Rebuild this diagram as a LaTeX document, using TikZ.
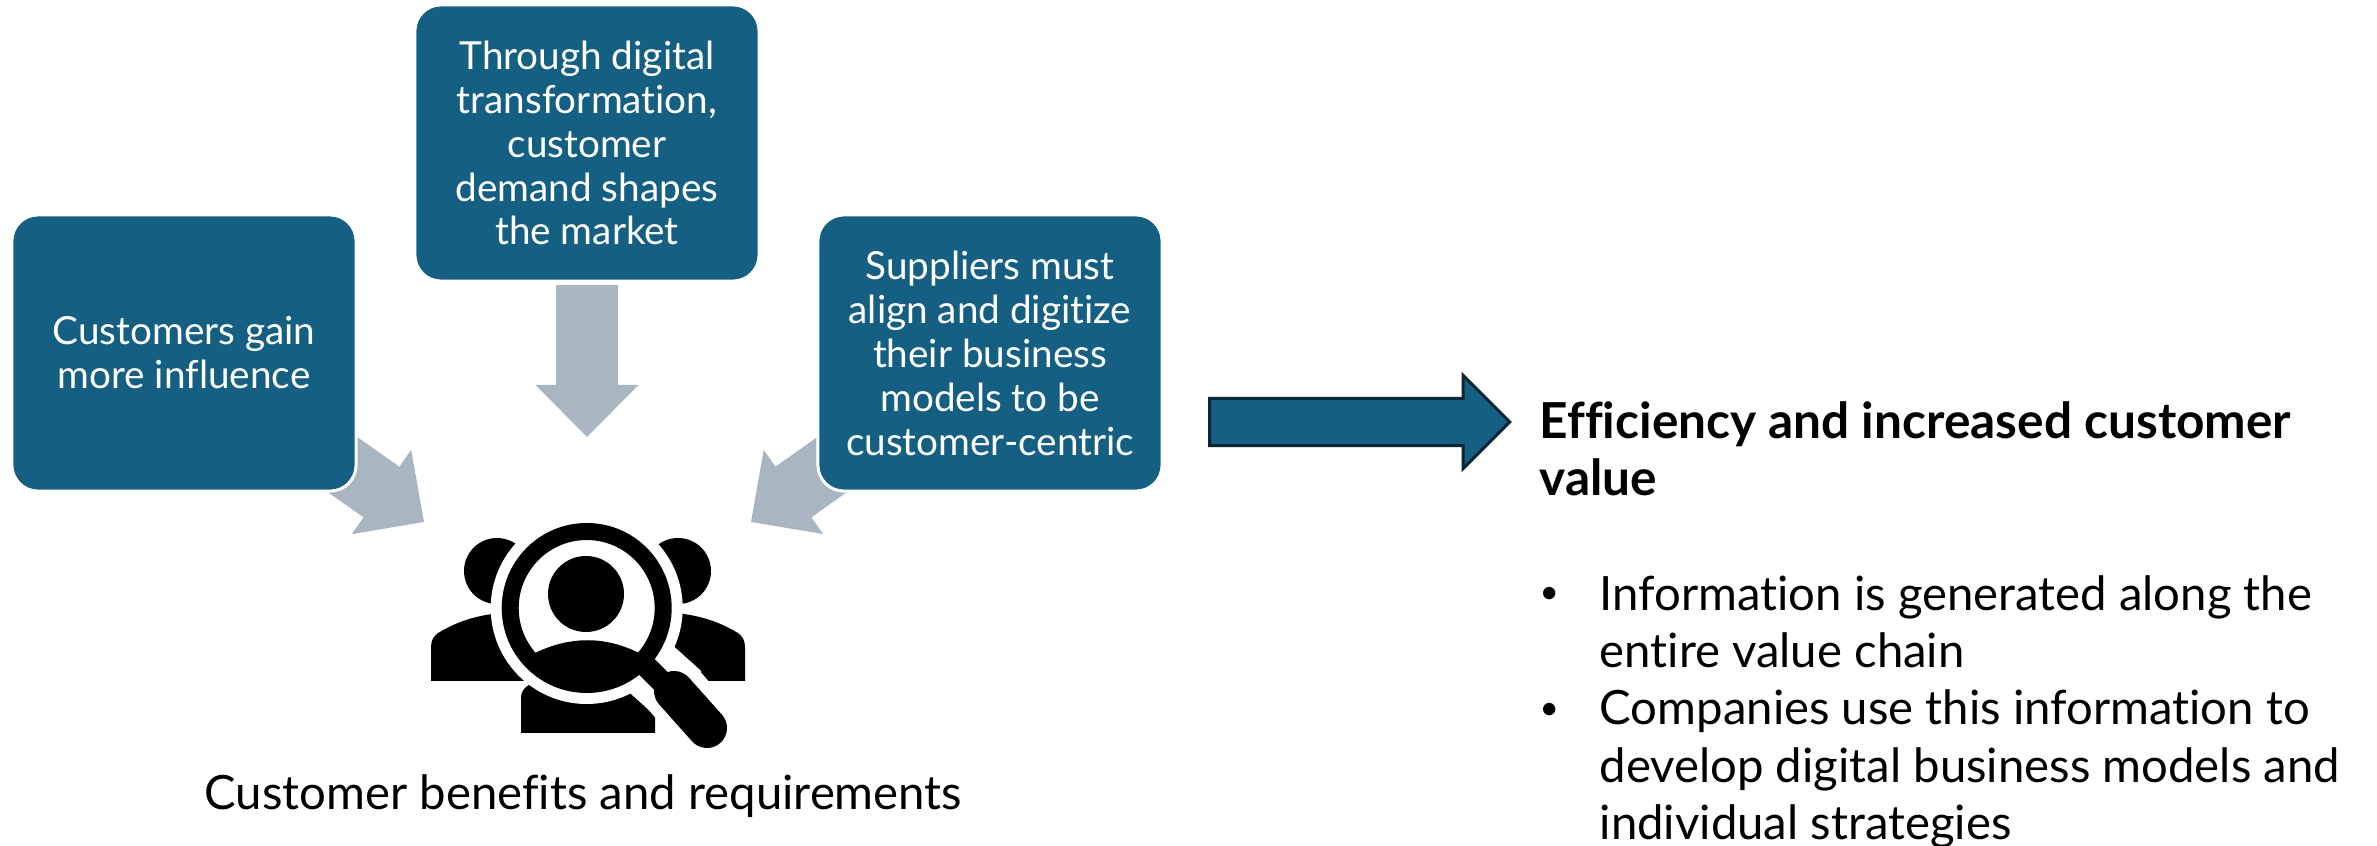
\documentclass[tikz,border=0pt]{standalone}
\usepackage{fontspec}
\setmainfont{Lato}[Ligatures=NoCommon]
\usepackage{xcolor}
\usetikzlibrary{arrows.meta,backgrounds,shapes.arrows}
\definecolor{boxteal}{RGB}{21,96,130}
\definecolor{boxedge}{RGB}{8,38,54}
\definecolor{flowgray}{RGB}{169,181,193}
\tikzset{%
    infobox/.style={%
        draw=white, line width=0.03cm, fill=boxteal, text=white, rounded corners=0.26cm,
        minimum width=3.44cm, minimum height=2.76cm, align=center, inner sep=0pt,
        font=\fontsize{11}{12.5}\selectfont
    },
    flow/.style={%
        draw=flowgray, line width=0.62cm,
        -{Triangle[length=0.52cm,width=1.03cm,line width=0pt,fill=flowgray]}
    },
    bodytext/.style={%
        anchor=base west, align=left, inner sep=0pt,
        font=\fontsize{13.45}{16.4}\selectfont
    }
}
\begin{document}
\begin{tikzpicture}[x=0.01cm,y=-0.01cm]
    \useasboundingbox (0,0) rectangle (2377,846);
%-----------------------------------------------
    \node[infobox] (gain) at (184,353) {Customers gain\\more influence};
    \node[infobox] (transform) at (587,143) {Through digital\\transformation,\\customer\\demand shapes\\the market};
    \node[infobox] (align) at (990,353) {Suppliers must\\align and digitize\\their business\\models to be\\customer-centric};
%-----------------------------------------------
    \coordinate (tipgain) at (424,522);
    \coordinate (tiptransform) at (587,437);
    \coordinate (tipalign) at (751,522);
    \begin{scope}[on background layer]
        \fill[white] (0,0) rectangle (2377,846);
        \draw[flow,shorten <=-0.3cm] (gain) -- (tipgain);
        \draw[flow,shorten <=0.02cm] (transform) -- (tiptransform);
        \draw[flow,shorten <=-0.3cm] (align) -- (tipalign);
    \end{scope}
%-----------------------------------------------
    % people behind the lens
    \fill (497,571) circle (33);
    \fill (678,571) circle (33);
    \fill (431,681) -- (431,647) .. controls (431,640) and (434,636) .. (438,633) .. controls (455,623) and (472,616) .. (500,613) -- (540,681) -- cycle;
    \fill (745,681) -- (745,647) .. controls (745,640) and (742,636) .. (738,633) .. controls (721,623) and (704,616) .. (676,613) -- (636,681) -- cycle;
    \fill (521,733) -- (521,697) .. controls (521,692) and (524,688) .. (530,684) -- (586,660) -- (655,700) -- (655,733) -- cycle;
    % halo of the glass
    \fill[white] (586.7,608) circle (96);
    \draw[white,line width=0.64cm,line cap=round] (672,688) -- (707,728);
    \draw[white,line width=0.64cm] (630,650) -- (680,695);
    % glass
    \draw[line width=0.17cm] (586.7,608) circle (76.5);
    \fill (586,594) circle (38);
    \begin{scope}
        \clip (586.7,608) circle (70);
        \fill (500,690) -- (535,653) .. controls (570,636) and (605,636) .. (639,653) -- (680,690) -- cycle;
    \end{scope}
    % handle
    \draw[line width=0.22cm] (640,660) -- (680,700);
    \draw[line width=0.4cm,line cap=round] (674,691) -- (707,728);
%-----------------------------------------------
    \node[bodytext] (label) at (204,810) {Customer benefits and requirements};
%-----------------------------------------------
    \node[draw=boxedge, line width=0.03cm, fill=boxteal, single arrow, inner xsep=0pt, inner ysep=0.22cm,
        minimum height=3cm, single arrow head extend=0.23cm, anchor=tail] (result) at (1208,422) {};
%-----------------------------------------------
    \node[bodytext,font=\fontsize{14.1}{16.4}\selectfont\bfseries] (title) at (1539,496) {Efficiency and increased customer\\value};
    \node[bodytext,font=\fontsize{9.5}{10}\selectfont] (dotone) at (1539,604) {\textbullet};
    \node[bodytext] (itemone) at (1599,668) {Information is generated along the\\entire value chain};
    \node[bodytext,font=\fontsize{9.5}{10}\selectfont] (dottwo) at (1539,720) {\textbullet};
    \node[bodytext] (itemtwo) at (1599,840) {Companies use this information to\\develop digital business models and\\individual strategies};
\end{tikzpicture}
\end{document}
